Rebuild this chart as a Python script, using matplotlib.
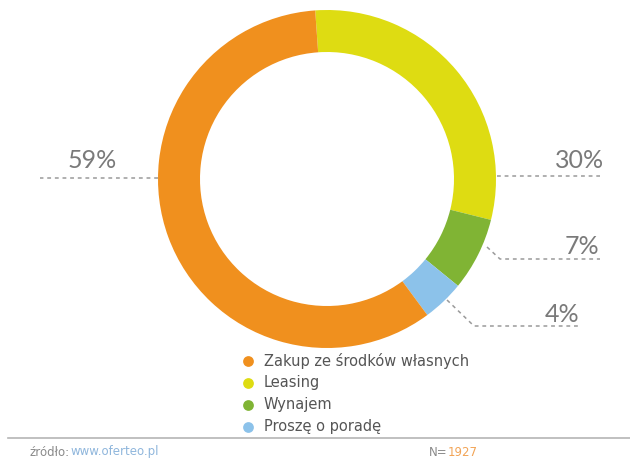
import matplotlib
matplotlib.use("Agg")
import matplotlib.pyplot as plt

# Data
labels = ["Leasing", "Wynajem", "Proszę o poradę", "Zakup ze środków własnych"]
values = [30, 7, 4, 59]
colors = ["#dedc12", "#80b434", "#8cc2ea", "#f0901e"]
legend_order = [3, 0, 1, 2]
pct_text = ["30%", "7%", "4%", "59%"]

plt.rcParams["font.family"] = ["DejaVu Sans"]

W, H = 630, 462
fig = plt.figure(figsize=(W / 100, H / 100), dpi=100)
ax = fig.add_axes([0, 0, 1, 1])

cx, cy, r = 327, 179, 169
# y axis is inverted, so counterclock=True draws clockwise on screen
wedges, _ = ax.pie(values, colors=colors, startangle=-94, counterclock=True,
                   center=(cx, cy), radius=r, frame=True,
                   wedgeprops=dict(width=42, linewidth=0))
ax.set_xlim(0, W)
ax.set_ylim(H, 0)
ax.set_aspect("equal")
ax.axis("off")

# leader lines and percentage labels
grey = "#9a9a9a"
lines = [
    ([497, 600], [176, 176]),
    ([487, 500, 600], [247, 259, 259]),
    ([447, 474, 580], [300, 326, 326]),
    ([158, 40], [178, 178]),
]
txt_pos = [(580, 161), (582, 246), (562, 315), (92, 161)]
for (xs, ys), (tx, ty), t in zip(lines, txt_pos, pct_text):
    ax.plot(xs, ys, color=grey, lw=1.1, ls=(0, (2.5, 2.5)))
    ax.text(tx, ty, t, fontsize=18, color="#7a7a7a", ha="center", va="center",
            family=["Lato", "DejaVu Sans"])

# legend
for i, k in enumerate(legend_order):
    y = 361 + i * 22
    ax.scatter([248], [y], s=60, color=colors[k], linewidths=0)
    ax.text(264, y, labels[k], fontsize=10.5, color="#555555", va="center")

# footer
ax.plot([8, 630], [438, 438], color="#b5b5b5", lw=1.2)
t1 = ax.text(30, 452, "źródło:", fontsize=8.5, color="#8a8a8a", va="center")
ax.annotate("www.oferteo.pl", xy=(1, 0.5), xycoords=t1, fontsize=8.5,
            color="#8fb6dc", va="center", ha="left")
t2 = ax.text(429, 452, "N=", fontsize=8.5, color="#8a8a8a", va="center")
ax.annotate("1927", xy=(1, 0.5), xycoords=t2, fontsize=8.5,
            color="#f2a456", va="center", ha="left")

fig.savefig("out.png", dpi=100)
